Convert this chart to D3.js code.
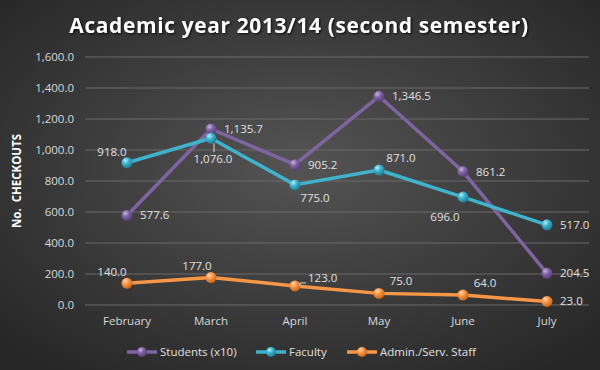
<!DOCTYPE html>
<html><head><meta charset="utf-8">
<script src="https://cdn.jsdelivr.net/npm/d3@7"></script>
<style>body{margin:0;background:#333;}svg{display:block;}</style>
</head><body>
<svg id="chart" width="600" height="370"></svg>
<script>
const months = ["February","March","April","May","June","July"];
const students = [577.6,1135.7,905.2,1346.5,861.2,204.5];
const faculty = [918.0,1076.0,775.0,871.0,696.0,517.0];
const admin = [140.0,177.0,123.0,75.0,64.0,23.0];
const yTicks = [0,200,400,600,800,1000,1200,1400,1600];
const seriesNames = ["Students (x10)","Faculty","Admin./Serv. Staff"];

const W=600,H=370;
const svg=d3.select("#chart");
const defs=svg.append("defs");
const bg=defs.append("radialGradient").attr("id","bg").attr("cx","50%").attr("cy","45%").attr("r","70%");
bg.append("stop").attr("offset","0%").attr("stop-color","#545454");
bg.append("stop").attr("offset","100%").attr("stop-color","#262626");
svg.append("rect").attr("width",W).attr("height",H).attr("fill","url(#bg)");

const colors=["#8064A2","#3FB2CC","#F79646"];
const dark=["#5a3f7f","#1f7f98","#c8661a"];
const light=["#c7b3e6","#b5eefa","#ffd7a8"];
colors.forEach((c,i)=>{
  const g=defs.append("radialGradient").attr("id","ball"+i).attr("cx","35%").attr("cy","30%").attr("r","70%");
  g.append("stop").attr("offset","0%").attr("stop-color",light[i]);
  g.append("stop").attr("offset","45%").attr("stop-color",c);
  g.append("stop").attr("offset","100%").attr("stop-color",dark[i]);
});

const x=d3.scaleBand().domain(months).range([85,589]);
const y=d3.scaleLinear().domain([0,1600]).range([305,57]);
const cx=m=>x(m)+x.bandwidth()/2;
const font="'Open Sans', sans-serif";

// gridlines
svg.append("g").selectAll("line").data(yTicks).join("line")
  .attr("x1",85).attr("x2",589).attr("y1",d=>y(d)).attr("y2",d=>y(d))
  .attr("stroke","#6a6a6a").attr("stroke-width",1);

// y axis
const yAxis=svg.append("g").attr("transform","translate(85,0)")
  .call(d3.axisLeft(y).tickValues(yTicks).tickSize(0).tickPadding(11).tickFormat(d3.format(",.1f")));
yAxis.select(".domain").remove();
yAxis.selectAll("text").attr("fill","#d9d9d9").attr("font-size","11.5px").attr("font-family",font);

// x axis
const xAxis=svg.append("g").attr("transform","translate(0,305)")
  .call(d3.axisBottom(x).tickSize(0).tickPadding(12));
xAxis.select(".domain").remove();
xAxis.selectAll("text").attr("fill","#d9d9d9").attr("font-size","11.5px").attr("font-family",font);

// title
svg.append("text").attr("x",299).attr("y",33).attr("text-anchor","middle")
  .attr("fill","#ffffff").attr("font-family",font).attr("font-weight","bold")
  .attr("font-size","21px").attr("letter-spacing","0.6px")
  .style("filter","drop-shadow(1px 1px 1px rgba(0,0,0,0.8))")
  .text("Academic year 2013/14 (second semester)");

// y axis title
svg.append("text").attr("transform","translate(21,181) rotate(-90)").attr("text-anchor","middle")
  .attr("fill","#ffffff").attr("font-family",font).attr("font-weight","bold").attr("font-size","11.5px")
  .attr("xml:space","preserve").text("No.  CHECKOUTS");

const allSeries=[students,faculty,admin];
// label placement keywords per point
const placement=[
  ["r","r","r","r","r","r"],
  ["al","bl","br","ar","bl","r"],
  ["al","a","arl","ar","ar","r"]
];
const line=d3.line().x((d,i)=>cx(months[i])).y(d=>y(d));

allSeries.forEach((s,si)=>{
  svg.append("path").datum(s).attr("d",line).attr("fill","none")
    .attr("stroke",colors[si]).attr("stroke-width",3.5).attr("stroke-linejoin","round");
});
allSeries.forEach((s,si)=>{
  svg.append("g").selectAll("circle").data(s).join("circle")
    .attr("cx",(d,i)=>cx(months[i])).attr("cy",d=>y(d)).attr("r",5.5)
    .attr("fill","url(#ball"+si+")");
});

const fmt=d3.format(",.1f");
const lab=svg.append("g").attr("font-family",font).attr("font-size","11.5px").attr("fill","#e0e0e0");
allSeries.forEach((s,si)=>{
  s.forEach((v,i)=>{
    const px=cx(months[i]),py=y(v),p=placement[si][i];
    let tx=px,ty=py,anchor="middle";
    if(p==="r"){tx=px+13;ty=py+4;anchor="start";}
    else if(p==="al"){tx=px-15;ty=py-7;}
    else if(p==="a"){tx=px-14;ty=py-8;}
    else if(p==="ar"){tx=px+22;ty=py-8;}
    else if(p==="arl"){tx=px+13;ty=py-4;anchor="start";
      lab.append("path").attr("d",`M${px+11},${py-3} L${px+5},${py-3} L${px+5},${py+0}`).attr("stroke","#d9d9d9").attr("fill","none").attr("stroke-width",1);}
    else if(p==="bl"){tx=px+2;ty=py+25;
      if(si===1&&i===1) lab.append("line").attr("x1",px+3).attr("x2",px+3).attr("y1",py+5).attr("y2",py+14).attr("stroke","#d9d9d9");}
    else if(p==="br"){tx=px+20;ty=py+17;}
    if(p==="bl"&&i===4){tx=px-18;ty=py+24;}
    lab.append("text").attr("x",tx).attr("y",ty).attr("text-anchor",anchor).text(fmt(v));
  });
});

// legend
const legX=[142,271,362];
const leg=svg.append("g");
seriesNames.forEach((n,i)=>{
  const lx=legX[i],ly=352;
  leg.append("line").attr("x1",lx-15).attr("x2",lx+15).attr("y1",ly).attr("y2",ly)
    .attr("stroke",colors[i]).attr("stroke-width",3.5);
  leg.append("circle").attr("cx",lx).attr("cy",ly).attr("r",5).attr("fill","url(#ball"+i+")");
  leg.append("text").attr("x",lx+18).attr("y",ly+4).attr("fill","#e0e0e0")
    .attr("font-family",font).attr("font-size","11.5px").text(n);
});
</script>
</body></html>
